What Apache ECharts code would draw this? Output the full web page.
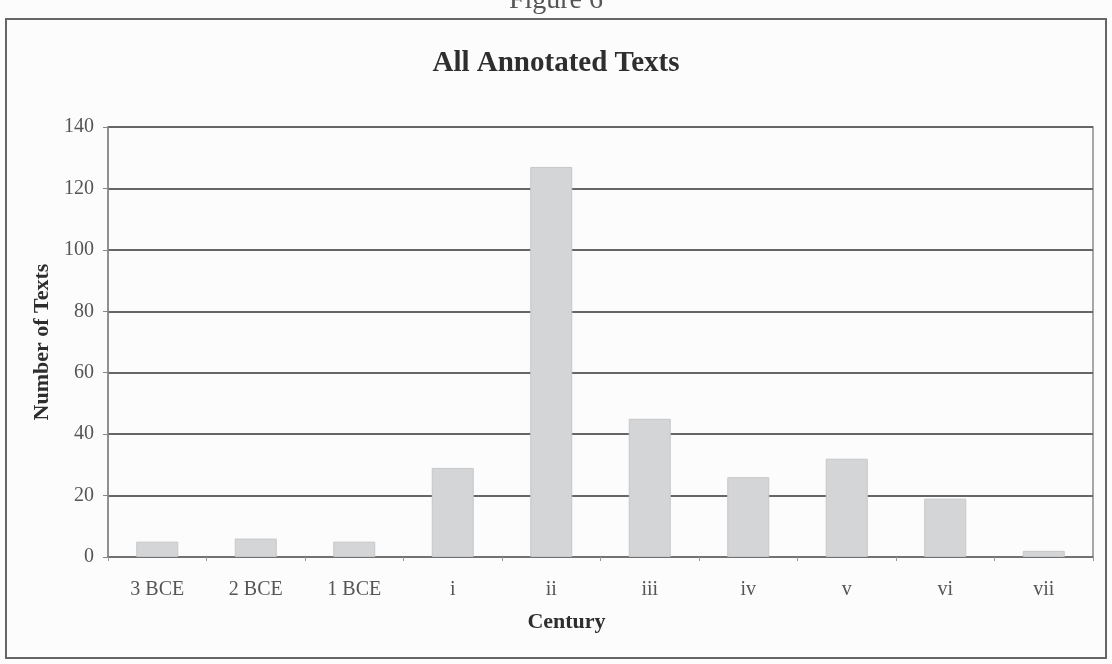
<!DOCTYPE html>
<html>
<head>
<meta charset="utf-8">
<script src="https://cdn.jsdelivr.net/npm/echarts@6/dist/echarts.min.js"></script>
<style>
  html, body { margin: 0; padding: 0; background: #fcfcfc; }
  #chart { width: 1112px; height: 664px; }
</style>
</head>
<body>
<div id="chart"></div>
<script>
// Annotated texts counted per century
const centuries = ['3 BCE', '2 BCE', '1 BCE', 'i', 'ii', 'iii', 'iv', 'v', 'vi', 'vii'];
const textCounts = [5, 6, 5, 29, 127, 45, 26, 32, 19, 2];
const yTicks = { min: 0, max: 140, step: 20 };

const serif = '"Liberation Serif", "DejaVu Serif", serif';
const chart = echarts.init(document.getElementById('chart'));

chart.setOption({
  backgroundColor: '#fcfcfc',
  animation: false,
  title: [
    {
      text: 'Figure 6',
      left: 'center',
      top: -18,
      textStyle: { fontFamily: serif, fontSize: 28, fontWeight: 'normal', color: '#555' }
    },
    {
      text: 'All Annotated Texts',
      left: 'center',
      top: 44,
      textStyle: { fontFamily: serif, fontSize: 29, fontWeight: 'bold', color: '#2e2e2e' }
    }
  ],
  graphic: [
    {
      type: 'rect',
      shape: { x: 6, y: 19, width: 1100, height: 639 },
      style: { fill: 'none', stroke: '#666', lineWidth: 2 },
      silent: true
    }
  ],
  grid: {
    left: 108,
    right: 19,
    top: 127,
    bottom: 107,
    show: true,
    borderColor: '#8a8a8a',
    borderWidth: 1.5
  },
  xAxis: {
    type: 'category',
    data: centuries,
    name: 'Century',
    nameLocation: 'middle',
    nameGap: 54,
    nameTextStyle: {
      fontFamily: serif, fontSize: 22, fontWeight: 'bold', color: '#2e2e2e',
      padding: [0, 68, 0, 0]
    },
    axisLine: { lineStyle: { color: '#777', width: 1.5 } },
    axisTick: { show: true, length: 4, lineStyle: { color: '#999' } },
    axisLabel: { fontFamily: serif, fontSize: 20, color: '#555', margin: 23 }
  },
  yAxis: {
    type: 'value',
    min: yTicks.min,
    max: yTicks.max,
    interval: yTicks.step,
    name: 'Number of Texts',
    nameLocation: 'middle',
    nameGap: 53,
    nameTextStyle: { fontFamily: serif, fontSize: 22, fontWeight: 'bold', color: '#2e2e2e' },
    axisLine: { show: true, lineStyle: { color: '#888', width: 1.5 } },
    axisTick: { show: true, length: 5, lineStyle: { color: '#888' } },
    axisLabel: { fontFamily: serif, fontSize: 20, color: '#555', margin: 14 },
    splitLine: { lineStyle: { color: '#666', width: 2 } }
  },
  series: [
    {
      type: 'bar',
      data: textCounts,
      barWidth: 42,
      itemStyle: { color: '#d4d5d7', borderColor: '#c6c7c9', borderWidth: 1 }
    }
  ]
});
</script>
</body>
</html>
